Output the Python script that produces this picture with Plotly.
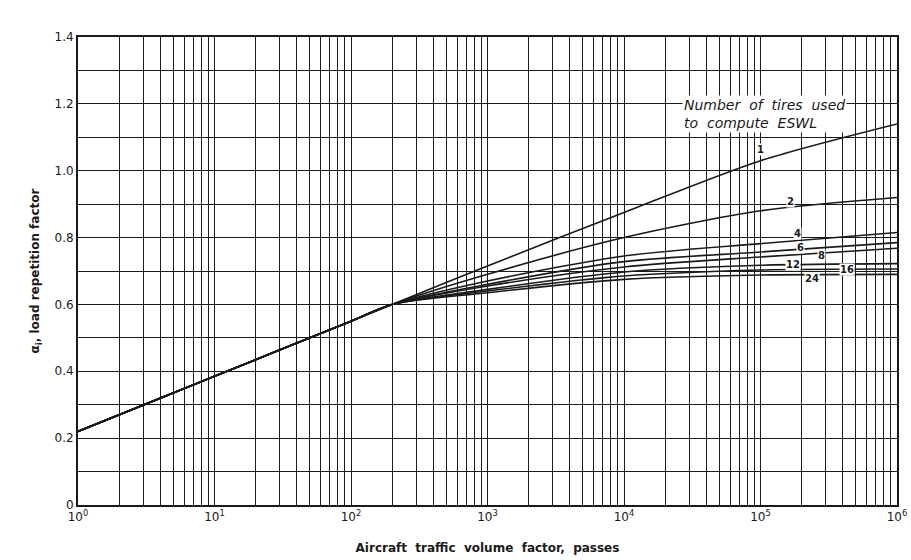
import plotly.graph_objects as go

# Aircraft traffic volume factor (passes)
passes = [1, 10, 100, 200, 1000, 10000, 100000, 1000000]

# Load repetition factor for each number of tires used to compute ESWL
tires_1 = [0.22, 0.385, 0.55, 0.60, 0.715, 0.875, 1.03, 1.14]
tires_2 = [0.22, 0.385, 0.55, 0.60, 0.69, 0.80, 0.88, 0.92]
tires_4 = [0.22, 0.385, 0.55, 0.60, 0.67, 0.745, 0.782, 0.815]
tires_6 = [0.22, 0.385, 0.55, 0.60, 0.66, 0.728, 0.757, 0.785]
tires_8 = [0.22, 0.385, 0.55, 0.60, 0.655, 0.712, 0.742, 0.768]
tires_12 = [0.22, 0.385, 0.55, 0.60, 0.645, 0.697, 0.717, 0.722]
tires_16 = [0.22, 0.385, 0.55, 0.60, 0.64, 0.685, 0.703, 0.706]
tires_24 = [0.22, 0.385, 0.55, 0.60, 0.635, 0.675, 0.688, 0.69]

series = [("1", tires_1), ("2", tires_2), ("4", tires_4), ("6", tires_6),
          ("8", tires_8), ("12", tires_12), ("16", tires_16), ("24", tires_24)]

# label positions (log10 passes, factor)
label_names = ["1", "2", "4", "6", "8", "12", "16", "24"]
label_x = [5.0, 5.22, 5.27, 5.29, 5.45, 5.24, 5.63, 5.38]
label_y = [1.063, 0.907, 0.811, 0.77, 0.746, 0.719, 0.704, 0.677]

x_tickvals = [1, 10, 100, 1000, 10000, 100000, 1000000]
x_ticktext = ["10<sup>0</sup>", "10<sup>1</sup>", "10<sup>2</sup>", "10<sup>3</sup>",
              "10<sup>4</sup>", "10<sup>5</sup>", "10<sup>6</sup>"]
y_tickvals = [0, 0.2, 0.4, 0.6, 0.8, 1.0, 1.2, 1.4]
y_ticktext = ["0", "0.2", "0.4", "0.6", "0.8", "1.0", "1.2", "1.4"]

minor_x = [m * 10 ** d for d in range(6) for m in range(2, 10)]

ink = "#1a1a1a"
fig = go.Figure()
for name, vals in series:
    fig.add_trace(go.Scatter(x=passes, y=vals, mode="lines", name=name,
                             line=dict(color=ink, width=1.6, shape="spline", smoothing=0.8),
                             showlegend=False, hoverinfo="x+y+name"))

for n, lx, ly in zip(label_names, label_x, label_y):
    fig.add_annotation(x=lx, y=ly, text="<b>" + n + "</b>", showarrow=False,
                       font=dict(family="DejaVu Sans", size=10, color=ink),
                       bgcolor="white", borderpad=0)

fig.add_annotation(x=0.737, y=1.17, xref="paper", yref="y", xanchor="left",
                   text="<i>Number  of  tires  used<br>to  compute  ESWL</i>", align="left",
                   showarrow=False, bgcolor="white",
                   font=dict(family="DejaVu Sans", size=14, color=ink))

fig.update_xaxes(type="log", range=[0, 6], tickvals=x_tickvals, ticktext=x_ticktext,
                 automargin=False,
                 showgrid=True, gridcolor=ink, gridwidth=1.3,
                 minor=dict(tickvals=minor_x, showgrid=True, gridcolor=ink, gridwidth=1.1, ticks=""),
                 showline=True, linecolor=ink, linewidth=2, mirror=True, ticks="",
                 tickfont=dict(family="DejaVu Sans", size=12, color=ink),
                 title=dict(text="<b>Aircraft  traffic  volume  factor,  passes</b>", standoff=20,
                            font=dict(family="DejaVu Sans", size=12, color=ink)))
fig.update_yaxes(range=[0, 1.4], tickvals=y_tickvals, ticktext=y_ticktext,
                 automargin=False,
                 showgrid=True, gridcolor=ink, gridwidth=1.3,
                 minor=dict(dtick=0.1, showgrid=True, gridcolor=ink, gridwidth=1.3, ticks=""),
                 showline=True, linecolor=ink, linewidth=2, mirror=True, ticks="",
                 zeroline=False,
                 tickfont=dict(family="DejaVu Sans", size=12, color=ink),
                 title=dict(text="<b>α<sub>i</sub>, load repetition factor</b>", standoff=12,
                            font=dict(family="DejaVu Sans", size=12, color=ink)))

fig.update_layout(width=911, height=560, margin=dict(l=78, r=14, t=37, b=55),
                  paper_bgcolor="white", plot_bgcolor="white")

fig.write_html("out.html")
